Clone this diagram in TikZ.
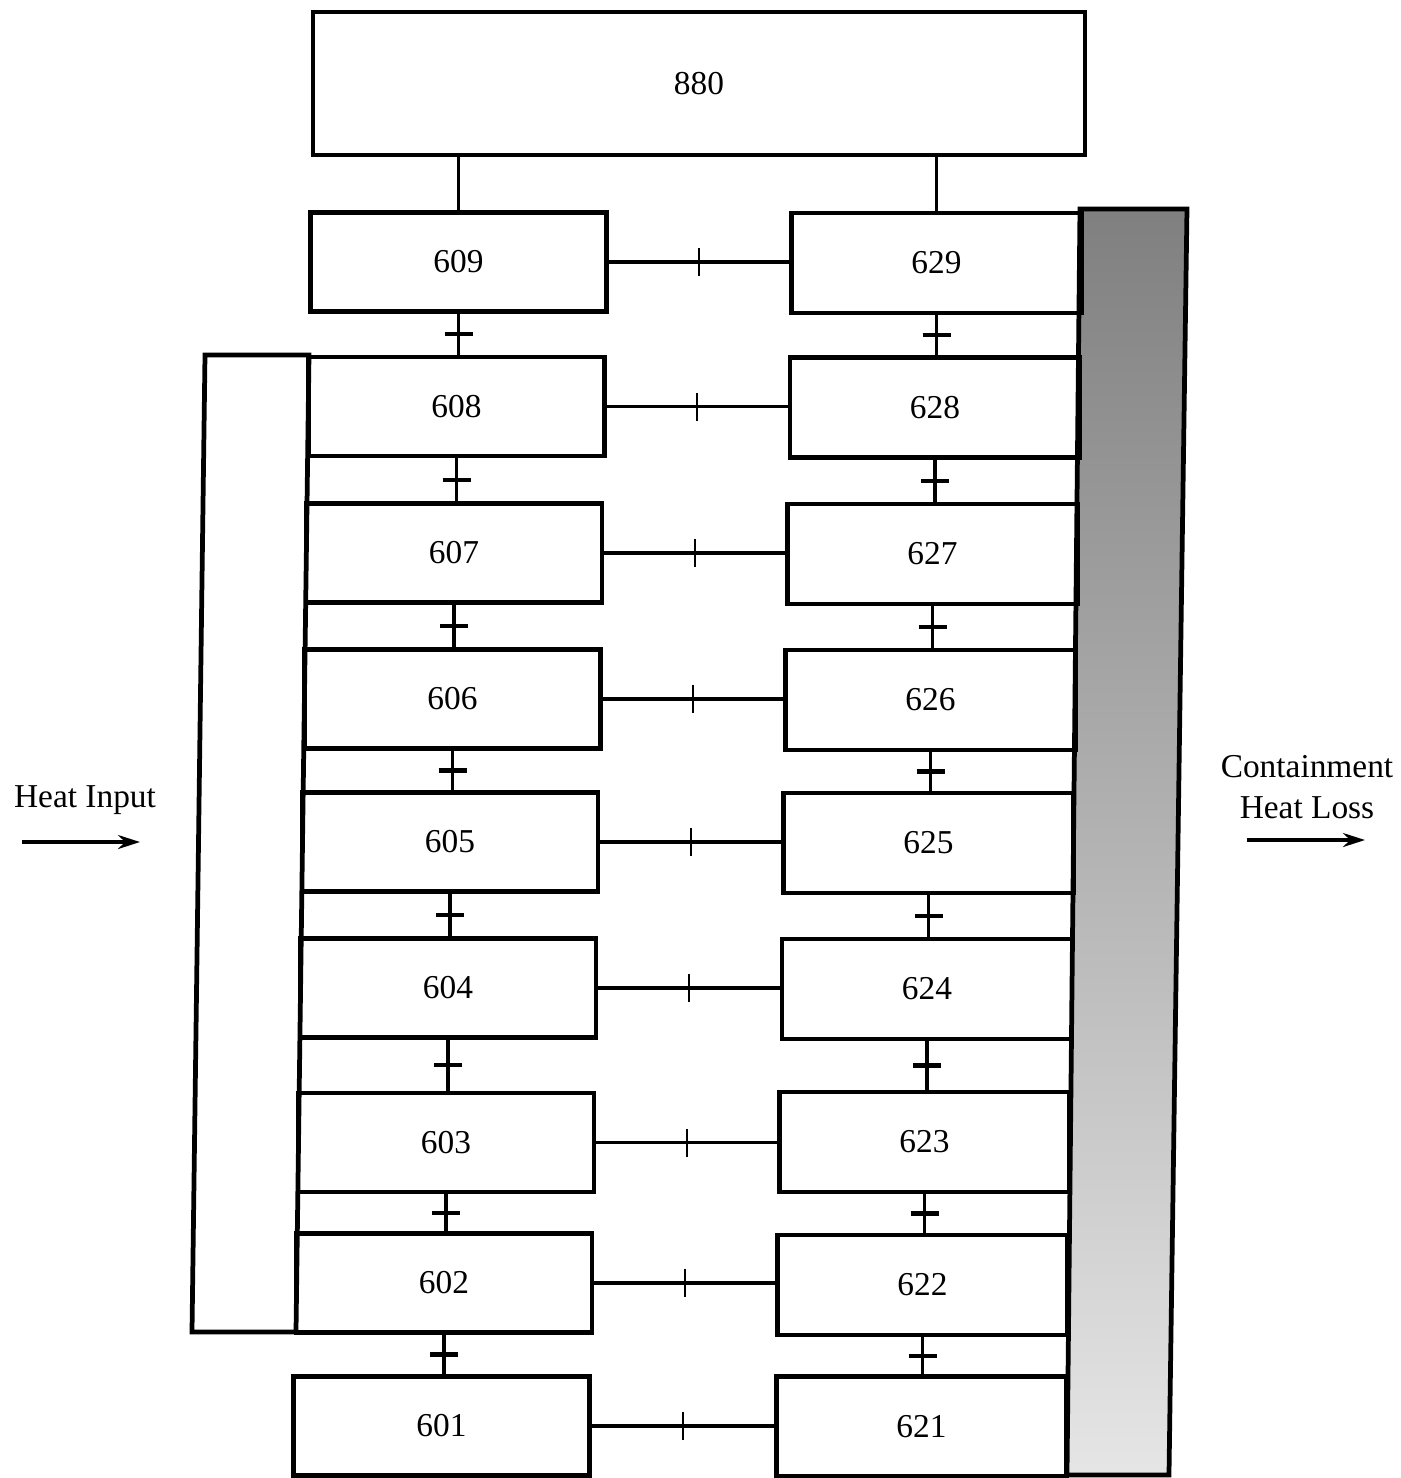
\documentclass[tikz,border=0pt]{standalone}
\usepackage{fontspec}
\setmainfont{Liberation Serif}
\usetikzlibrary{arrows.meta,decorations.markings}
\begin{document}
\begin{tikzpicture}[x=0.1mm,y=-0.1mm,font=\fontsize{9.5}{11.5}\selectfont,
  box/.style={draw,line width=1.35pt,inner sep=0pt,minimum height=9.9mm},
  lbox/.style={box,minimum width=29.6mm},
  rbox/.style={box,minimum width=29mm,minimum height=10mm},
  link/.style={line width=1.1pt},
  tick/.style={postaction={decorate,decoration={markings,
    mark=at position .5 with {\draw[line width=#1] (0,-1.4mm) -- (0,1.4mm);}}}},
  flow/.style={line width=.9pt,-{Stealth[length=2.2mm,width=1.4mm]}}]
\useasboundingbox (0,0) rectangle (1401,1478);
% heater and containment strips
\shade[top color=black!50,middle color=black!20,bottom color=black!10]
  (1080,209) -- (1187,209) -- (1169,1475) -- (1067,1475) -- cycle;
\draw[line width=1.35pt] (1080,209) -- (1187,209) -- (1169,1475) -- (1067,1475) -- cycle;
\draw[line width=1.35pt] (205,355) -- (309,355) -- (296,1332) -- (192,1332) -- cycle;
% boxes
\node[box,minimum width=77.2mm,minimum height=14.3mm] (top) at (699,83.5) {880};
\foreach \n/\x/\y in {9/458.5/262,8/456.5/406.5,7/454/553,6/452.5/699,5/450/842,
    4/448/988,3/446/1142.5,2/444/1283,1/441.5/1426}
  \node[lbox] (l\n) at (\x,\y) {60\n};
\foreach \n/\x/\y in {9/936.5/263,8/935/407.5,7/932.5/554,6/930.5/700,5/928.5/843,
    4/927/989,3/924.5/1142,2/922.5/1285,1/921.5/1426.5}
  \node[rbox] (r\n) at (\x,\y) {62\n};
% connectors
\draw[link] (l9.north) -- (l9.north |- top.south);
\draw[link] (r9.north) -- (r9.north |- top.south);
\foreach \n in {1,...,9}
  \draw[link,tick=.7pt] (l\n.east) -- (l\n.east -| r\n.west);
\foreach \a/\b in {9/8,8/7,7/6,6/5,5/4,4/3,3/2,2/1}{
  \draw[link,tick=1.2pt] (l\a.south) -- (l\a.south |- l\b.north);
  \draw[link,tick=1.2pt] (r\a.south) -- (r\a.south |- r\b.north);
}
% heat flow
\node (heatin) at (85,800) {Heat Input};
\coordinate (hia) at (22,842);
\coordinate (hib) at (140,842);
\draw[flow] (hia) -- (hib);
\node[align=center] (heatloss) at (1307,787) {Containment\\Heat Loss};
\coordinate (hla) at (1247,840);
\coordinate (hlb) at (1365,840);
\draw[flow] (hla) -- (hlb);
\end{tikzpicture}
\end{document}
